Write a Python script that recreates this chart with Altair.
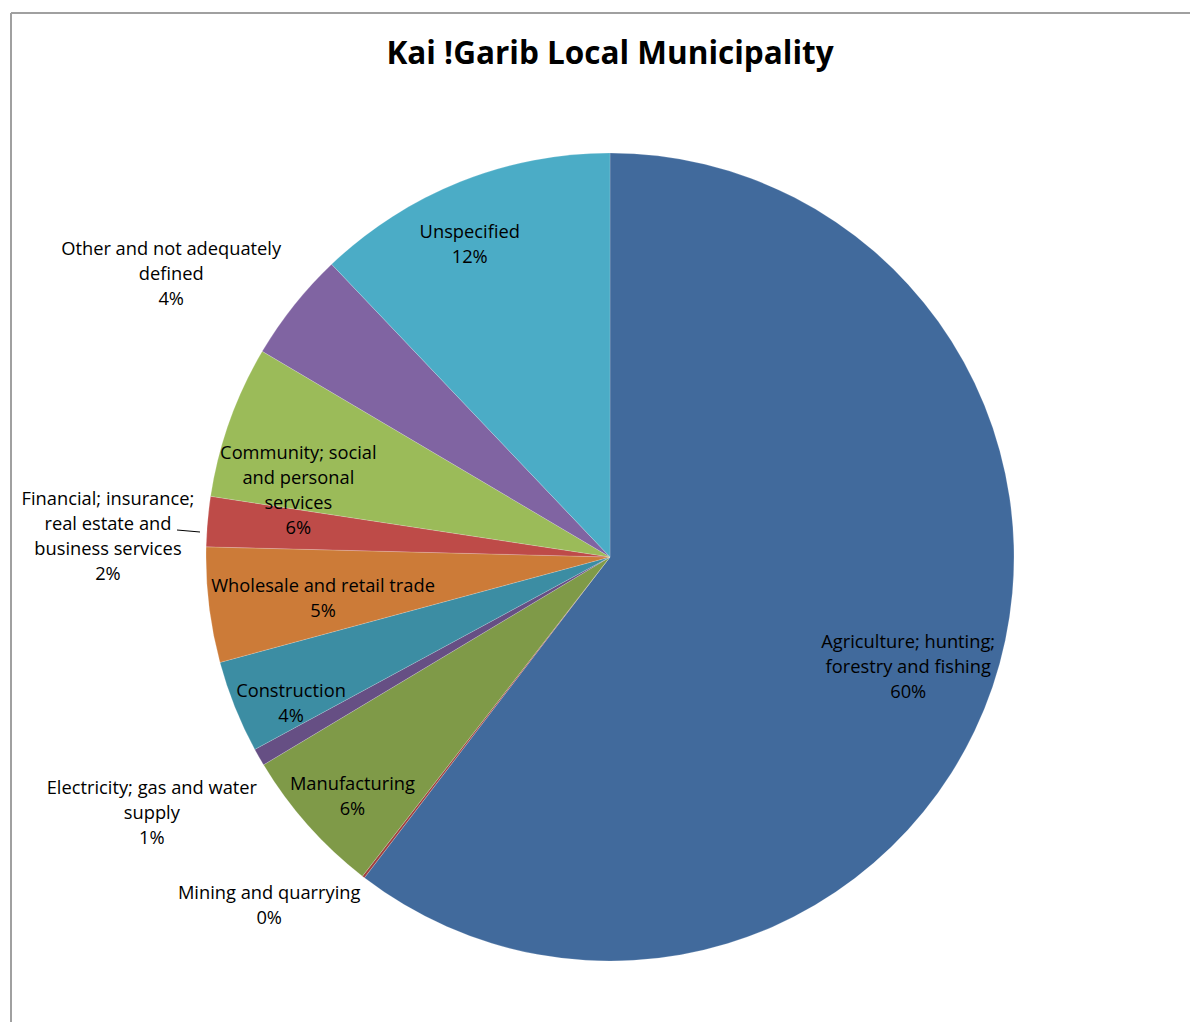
import json
import altair as alt
import pandas as pd

# ---------------- data ----------------
title_text = "Kai !Garib Local Municipality"

categories = [
    "Agriculture; hunting; forestry and fishing",
    "Mining and quarrying",
    "Manufacturing",
    "Electricity; gas and water supply",
    "Construction",
    "Wholesale and retail trade",
    "Financial; insurance; real estate and business services",
    "Community; social and personal services",
    "Other and not adequately defined",
    "Unspecified",
]
wrapped_names = [
    "Agriculture; hunting;\nforestry and fishing",
    "Mining and quarrying",
    "Manufacturing",
    "Electricity; gas and water\nsupply",
    "Construction",
    "Wholesale and retail trade",
    "Financial; insurance;\nreal estate and\nbusiness services",
    "Community; social\nand personal\nservices",
    "Other and not adequately\ndefined",
    "Unspecified",
]
values = [60.4, 0.1, 5.9, 0.7, 3.7, 4.6, 2.0, 6.1, 4.4, 12.1]
pct_labels = ["60%", "0%", "6%", "1%", "4%", "5%", "2%", "6%", "4%", "12%"]
colors = ["#416A9C", "#A0413E", "#7F9A48", "#664F84", "#3C8DA3",
          "#CC7B38", "#BE4B48", "#9BBB59", "#8064A2", "#4BACC6"]

df = pd.DataFrame({
    "idx": list(range(len(categories))),
    "category": categories,
    "wrapped": wrapped_names,
    "value": values,
    "pct": pct_labels,
})
df["label"] = df["wrapped"] + "\n" + df["pct"]

# ---------------- layout / style ----------------
FONT = "Open Sans"
FS = 18.3
LH = 25
W, H = 1182, 1014
CX, CY = 602, 549
R = 404
DY_ALL = 2

# label placement: (radius, dx, dy) of the label block centre per category
label_place = {
    categories[0]: (317, -2, 7),
    categories[1]: (483, -46, -35),
    categories[2]: (351, 5, 6),
    categories[3]: (524, -3, -5),
    categories[4]: (350, 6, 16),
    categories[5]: (290, 1, 6),
    categories[6]: (502, -2, 23),
    categories[7]: (316, -14, 39),
    categories[8]: (520, -32, 40),
    categories[9]: (343, -13, 5),
}

theta_enc = alt.Theta("value:Q", stack=True)
order_enc = alt.Order("idx:Q", sort="ascending")

pie = alt.Chart(df).mark_arc(outerRadius=R, stroke="#ffffff", strokeWidth=0.3, strokeOpacity=0.6).encode(
    theta=theta_enc,
    order=order_enc,
    color=alt.Color("category:N", scale=alt.Scale(domain=categories, range=colors), legend=None),
    x=alt.value(CX),
    y=alt.value(CY),
)

layers = [pie]
for cat, lab in zip(categories, df["label"]):
    r, dx, dy = label_place[cat]
    n_lines = lab.count("\n") + 1
    layers.append(
        alt.Chart(df)
        .transform_calculate(show=f"datum.category === {json.dumps(cat)} ? datum.label : ''")
        .mark_text(
            radius=r, dx=dx, dy=dy + DY_ALL - (n_lines - 1) * LH / 2, font=FONT, fontSize=FS,
            color="#000000", align="center", baseline="middle", lineBreak="\n", lineHeight=LH,
        )
        .encode(
            theta=theta_enc,
            order=order_enc,
            text=alt.Text("show:N"),
            x=alt.value(CX),
            y=alt.value(CY),
        )
    )

one = pd.DataFrame({"t": [title_text]})

title = alt.Chart(one).mark_text(
    font=FONT, fontSize=31.5, fontWeight="bold", color="#000000",
    align="center", baseline="alphabetic",
).encode(text="t:N", x=alt.value(CX), y=alt.value(56))

border_v = alt.Chart(one).mark_rule(color="#A0A0A0", strokeWidth=2).encode(
    x=alt.value(3), y=alt.value(5), y2=alt.value(H)
)
border_h = alt.Chart(one).mark_rule(color="#A0A0A0", strokeWidth=2).encode(
    x=alt.value(3), x2=alt.value(W), y=alt.value(5)
)
leader = alt.Chart(one).mark_rule(color="#000000", strokeWidth=1).encode(
    x=alt.value(169), x2=alt.value(192), y=alt.value(522), y2=alt.value(524)
)

chart = alt.layer(*layers, title, border_v, border_h, leader).properties(
    width=W, height=H, padding=0,
    autosize=alt.AutoSizeParams(type="none"),
).configure_view(strokeWidth=0)

chart.save("out.html", embed_options={"renderer": "svg", "actions": False})
